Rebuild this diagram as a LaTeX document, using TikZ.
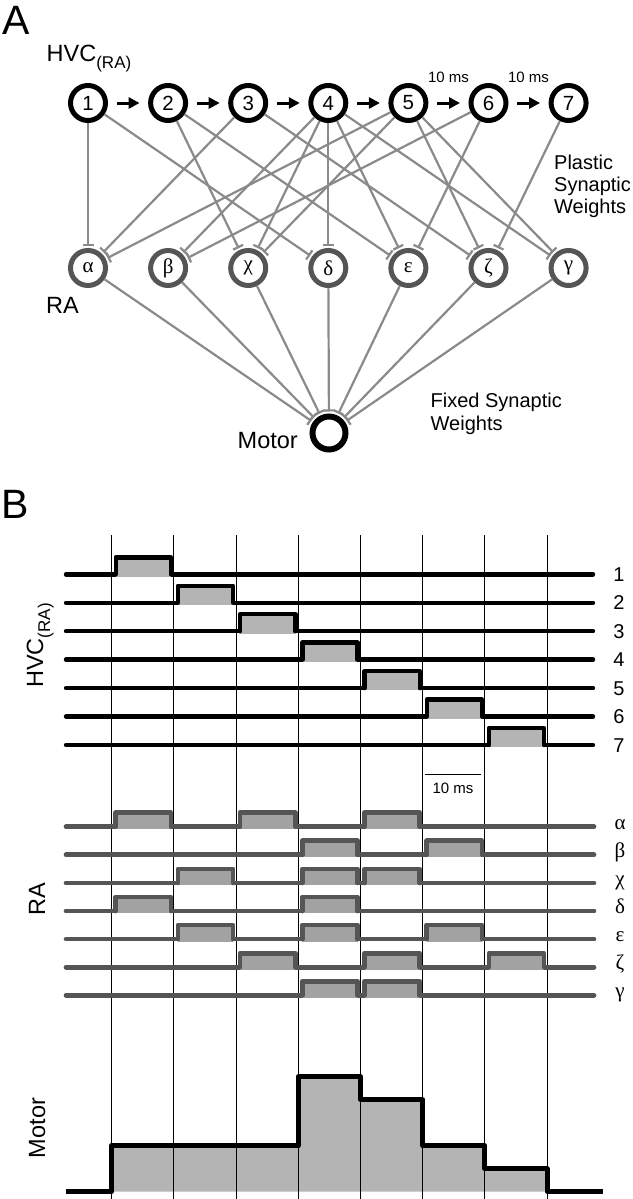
\documentclass[tikz,border=0pt]{standalone}
\usepackage{fontspec}
\setmainfont{Liberation Sans}
\newfontfamily\greekfont{Liberation Serif}
\usetikzlibrary{arrows.meta}
\definecolor{synapsegray}{HTML}{8A8A8A}
\definecolor{ragray}{HTML}{555555}
\definecolor{hvcfill}{HTML}{B4B4B4}
\definecolor{rafill}{HTML}{A2A2A2}

\tikzset{
  hvcneuron/.style={circle, draw=black, line width=5pt, fill=white, minimum size=35pt, inner sep=0pt, font=\fontsize{20.5}{20.5}\selectfont},
  raneuron/.style={circle, draw=ragray, line width=5pt, fill=white, minimum size=35pt, inner sep=0pt, font=\greekfont\fontsize{21}{21}\selectfont},
  motorneuron/.style={circle, draw=black, line width=6pt, fill=white, minimum size=33pt, inner sep=0pt},
  chainarrow/.style={-{Triangle[length=11pt,width=11pt]}, line width=3pt, shorten <=8.5pt, shorten >=8.5pt},
  synapse/.style={draw=synapsegray, line width=2.2pt, -{Bar[width=11pt]}, shorten >=2pt},
  bigletter/.style={inner sep=0pt, anchor=base west, font=\fontsize{41}{41}\selectfont},
  arealabel/.style={inner sep=0pt, font=\fontsize{23.5}{23.5}\selectfont},
  notelabel/.style={inner sep=0pt, align=left, anchor=base west, font=\fontsize{20}{22.4}\selectfont},
  delaylabel/.style={inner sep=0pt, font=\fontsize{15}{15}\selectfont},
  gridline/.style={line width=0.9pt},
  hvctrace/.style={line width=4.4pt, line cap=round, line join=round},
  ratrace/.style={ragray, line width=4.7pt, line cap=round, line join=round},
  motortrace/.style={line width=5pt, line join=round},
  tracelabel/.style={inner sep=0pt, anchor=base, font=\fontsize{20}{20}\selectfont},
}
\newcommand{\hvcsub}{HVC\raisebox{-7pt}{\fontsize{17}{17}\selectfont(RA)}}

\begin{document}
\begin{tikzpicture}[x=1pt,y=-1pt]
  \useasboundingbox (0,0) rectangle (632,1199);
  % panel A: network
  \node[bigletter] (labelA) at (2,35) {A};
  \node[arealabel, anchor=base west] (hvcA) at (46.5,61.7) {\hvcsub};
  \foreach \i in {1,...,7}
    \node[hvcneuron] (h\i) at ({88+80.1*(\i-1)},103) {\i};
  \foreach \raname/\letter [count=\k] in {alpha/α,beta/β,chi/χ,delta/δ,eps/ε,zeta/ζ,gamma/γ}
    \node[raneuron] (\raname) at ({88+80.1*(\k-1)},268) {\letter};
  \node[motorneuron] (motor) at (329,433) {};
  \foreach \i [evaluate=\i as \j using int(\i+1)] in {1,...,6}
    \draw[chainarrow] (h\i) -- (h\j);
  \node[delaylabel] (delay56) at (448.5,77) {10 ms};
  \node[delaylabel] (delay67) at (528.5,77) {10 ms};
  \foreach \src/\dst in {1/alpha,1/delta,2/chi,2/eps,3/alpha,3/zeta,4/beta,4/chi,4/delta,4/eps,4/gamma,5/alpha,5/chi,5/zeta,5/gamma,6/beta,6/eps,7/zeta}
    \draw[synapse] (h\src) -- (\dst);
  \foreach \raname in {alpha,beta,chi,delta,eps,zeta,gamma}
    \draw[synapse] (\raname) -- (motor);
  \node[notelabel] (plastic) at (554,213.8) {Plastic\\Synaptic\\Weights};
  \node[notelabel] (fixed) at (430.5,430) {Fixed Synaptic\\Weights};
  \node[arealabel, anchor=base west] (raA) at (46,313) {RA};
  \node[arealabel, anchor=base east] (motorA) at (298,448) {Motor};

  % panel B: activity
  \node[bigletter] (labelB) at (1,518) {B};
  \def\motorpath{(66,1191.7) -- (111.7,1191.7) -- (111.7,1145.7) -- (298.3,1145.7) -- (298.3,1076.7) -- (360.5,1076.7) -- (360.5,1099.7) -- (422.7,1099.7) -- (422.7,1145.7) -- (484.9,1145.7) -- (484.9,1168.7) -- (547.1,1168.7) -- (547.1,1191.7) -- (603,1191.7)}
  \fill[hvcfill] \motorpath;
  \foreach \j in {0,...,7}
    \draw[gridline] ({111.7+62.2*\j},535) -- ({111.7+62.2*\j},1199);
  \foreach \i in {1,...,7} {
    \pgfmathsetmacro{\base}{574.3+28.45*(\i-1)}
    \pgfmathsetmacro{\rise}{111.7+62.2*(\i-1)+4}
    \pgfmathsetmacro{\fall}{111.7+62.2*\i-3}
    \draw[hvctrace] (66,\base) -- (593,\base);
    \fill[hvcfill] (\rise,\base+2.3) rectangle (\fall,\base-17);
    \draw[hvctrace] (\rise,\base) -- (\rise,\base-17) -- (\fall,\base-17) -- (\fall,\base);
    \node[tracelabel] (hvclabel\i) at (619,\base+7.2) {\i};
  }
  \foreach \slots [count=\row] in {{1,3,5},{4,6},{2,4,5},{1,4},{2,4,6},{3,5,7},{4,5}} {
    \pgfmathsetmacro{\base}{826.7+28.1*(\row-1)}
    \draw[ratrace] (66,\base) -- (594,\base);
    \foreach \s in \slots {
      \pgfmathsetmacro{\rise}{111.7+62.2*(\s-1)+4}
      \pgfmathsetmacro{\fall}{111.7+62.2*\s-3}
      \fill[rafill] (\rise,\base+2.4) rectangle (\fall,\base-14);
      \draw[ratrace] (\rise,\base) -- (\rise,\base-14) -- (\fall,\base-14) -- (\fall,\base);
    }
  }
  \foreach \letter [count=\row] in {α,β,χ,δ,ε,ζ,γ}
    \node[tracelabel, font=\greekfont\fontsize{21}{21}\selectfont] (ralabel\row) at (620,{826.7+28.1*(\row-1)+2.5}) {\letter};
  \draw[motortrace] \motorpath;
  \coordinate (barL) at (425,774.5);
  \coordinate (barR) at (481,774.5);
  \draw[line width=1.6pt] (barL) -- (barR) node[midway, below=8pt, delaylabel] (barlabel) {10 ms};
  \node[arealabel, rotate=90, anchor=base] (hvcB) at (43,645.5) {\hvcsub};
  \node[arealabel, rotate=90, anchor=base] (raB) at (45,899) {RA};
  \node[arealabel, rotate=90, anchor=base] (motorB) at (45,1128) {Motor};
\end{tikzpicture}
\end{document}
